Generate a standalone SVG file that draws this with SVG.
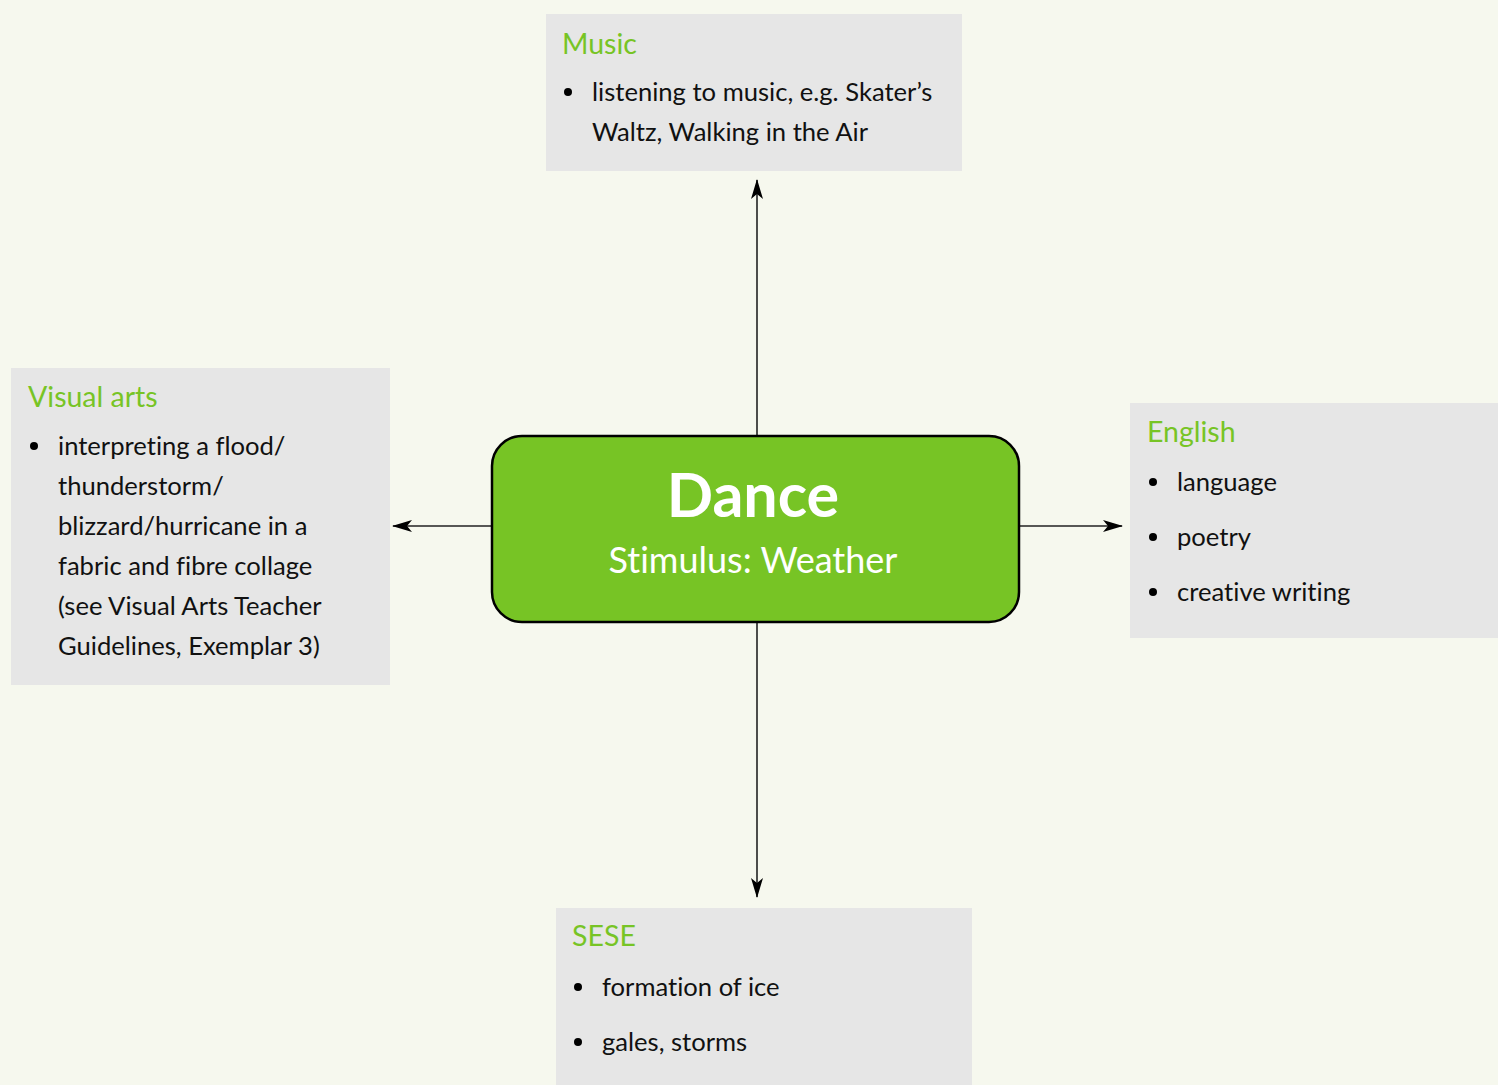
<svg xmlns="http://www.w3.org/2000/svg" width="1498" height="1085" viewBox="0 0 1498 1085">
<defs>
<style>
text{font-variant-ligatures:none}
.box{fill:#e6e6e6}
.hd{font-family:Lato,"Noto Sans",sans-serif;font-size:28.5px;fill:#77c425}
.tx{font-family:Lato,"Noto Sans",sans-serif;font-size:25.6px;fill:#111}
.con{stroke:#222;stroke-width:1.6;fill:none}
</style>
<marker id="ah" viewBox="0 0 20 12" refX="19" refY="6" markerWidth="20" markerHeight="12" markerUnits="userSpaceOnUse" orient="auto">
<path d="M0,0 L20,6 L0,12 L5,6 Z" fill="#000"/>
</marker>
</defs>
<rect width="1498" height="1085" fill="#f6f8ee"/>
<g id="connectors">
<line class="con" x1="757" y1="436" x2="757" y2="180" marker-end="url(#ah)"/>
<line class="con" x1="757" y1="622" x2="757" y2="897" marker-end="url(#ah)"/>
<line class="con" x1="492" y1="526" x2="393" y2="526" marker-end="url(#ah)"/>
<line class="con" x1="1019" y1="526" x2="1122" y2="526" marker-end="url(#ah)"/>
</g>
<g id="music">
<rect class="box" x="546" y="14" width="416" height="157"/>
<text class="hd" x="562" y="54">Music</text>
<circle cx="568" cy="92" r="4"/>
<text class="tx" x="592" y="101">listening to music, e.g. Skater’s</text>
<text class="tx" x="592" y="141">Waltz, Walking in the Air</text>
</g>
<g id="visual-arts">
<rect class="box" x="11" y="368" width="379" height="317"/>
<text class="hd" x="28" y="407">Visual arts</text>
<circle cx="34" cy="446" r="4"/>
<text class="tx" x="58" y="455">interpreting a flood/</text>
<text class="tx" x="58" y="495">thunderstorm/</text>
<text class="tx" x="58" y="535">blizzard/hurricane in a</text>
<text class="tx" x="58" y="575">fabric and fibre collage</text>
<text class="tx" x="58" y="615">(see Visual Arts Teacher</text>
<text class="tx" x="58" y="655">Guidelines, Exemplar 3)</text>
</g>
<g id="english">
<rect class="box" x="1130" y="403" width="368" height="235"/>
<text class="hd" x="1147" y="442">English</text>
<circle cx="1153" cy="482" r="4"/>
<text class="tx" x="1177" y="491">language</text>
<circle cx="1153" cy="537" r="4"/>
<text class="tx" x="1177" y="546">poetry</text>
<circle cx="1153" cy="592" r="4"/>
<text class="tx" x="1177" y="601">creative writing</text>
</g>
<g id="sese">
<rect class="box" x="556" y="908" width="416" height="177"/>
<text class="hd" x="572" y="946">SESE</text>
<circle cx="578" cy="987" r="4"/>
<text class="tx" x="602" y="996">formation of ice</text>
<circle cx="578" cy="1042" r="4"/>
<text class="tx" x="602" y="1051">gales, storms</text>
</g>
<g id="dance">
<rect x="492" y="436" width="527" height="186" rx="30" fill="#77c425" stroke="#000" stroke-width="2.5"/>
<text x="753" y="517" text-anchor="middle" font-family="Lato,'Noto Sans',sans-serif" font-weight="bold" font-size="61" fill="#fff">Dance</text>
<text x="753" y="573" text-anchor="middle" font-family="Lato,'Noto Sans',sans-serif" font-size="36" fill="#fff">Stimulus: Weather</text>
</g>
</svg>
